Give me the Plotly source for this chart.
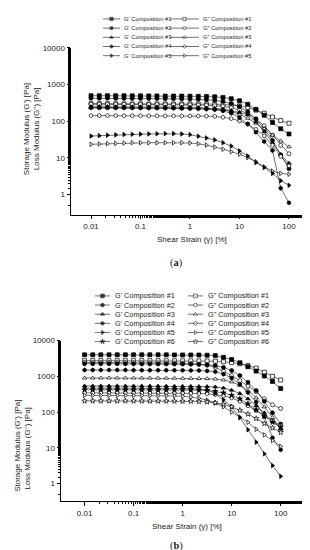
import plotly.graph_objects as go

# ---------------- data ----------------
strain = [0.01, 0.0147, 0.0215, 0.0316, 0.0464, 0.0681, 0.1, 0.147, 0.215, 0.316,
          0.464, 0.681, 1, 1.47, 2.15, 3.16, 4.64, 6.81, 10, 14.7, 21.5, 31.6, 46.4, 68.1, 100]

x_ticks = [0.01, 0.1, 1, 10, 100]
x_ticktext = ["0.01", "0.1", "1", "10", "100"]
y_ticks = [1, 10, 100, 1000, 10000]
y_ticktext = ["1", "10", "100", "1000", "10000"]

# panel (a)
a_g1 = [495,495,495,493,492,490,490,488,487,485,484,482,480,475,470,462,445,410,360,290,210,145,92,62,45]
a_gg1 = [300,300,298,298,297,296,296,295,295,295,294,294,294,293,292,290,285,275,260,238,200,165,130,104,88]
a_g2 = [420,420,420,418,418,416,415,414,412,410,408,405,400,395,385,370,345,305,250,180,115,62,30,12,5.1]
a_gg2 = [290,290,289,289,288,288,287,286,285,284,283,282,280,277,272,265,252,232,200,160,115,75,42,22,13]
a_g3 = [250,250,250,249,249,248,248,247,246,245,244,242,240,236,230,225,215,195,175,150,95,52,26,12.5,7.2]
a_gg3 = [235,235,235,234,234,234,233,233,232,232,231,230,229,227,224,218,205,185,155,120,88,62,42,29,20]
a_g4 = [230,230,230,229,229,228,228,227,226,225,224,222,220,217,212,205,190,165,125,85,50,28,16,1.5,0.6]
a_gg4 = [142,142,142,142,141,141,141,141,140,140,140,139,139,138,137,135,128,118,102,82,60,40,22,11,6.1]
a_g5 = [39.5,40.5,41.5,42.5,43.5,44,44.5,45,45.5,46,46,45,43,39,35,31,26,21,15.5,11.3,7.5,5.5,3.8,2.4,1.8]
a_gg5 = [23.5,24,24.5,25,25.5,26,26,26,26,26,26,26,25.5,24.4,22.4,19.8,17.3,14.8,12.6,10.2,7.9,5.7,4.4,3.8,3.6]

# panel (b)
b_g1 = [4000,4000,4000,4000,4000,4000,4000,4000,4000,4000,3990,3980,3970,3960,3950,3900,3800,3400,2950,2400,1850,1400,1020,720,455]
b_gg1 = [2750,2750,2750,2750,2750,2750,2750,2750,2740,2740,2740,2730,2730,2720,2710,2700,2650,2550,2420,2250,2000,1700,1300,1000,790]
b_g2 = [2250,2250,2250,2250,2250,2240,2240,2230,2230,2220,2220,2210,2200,2180,2150,2100,2000,1780,1450,1050,680,400,200,95,46]
b_gg2 = [2450,2450,2450,2450,2440,2440,2430,2420,2410,2400,2390,2370,2340,2290,2200,2050,1800,1400,1050,760,540,370,235,160,126]
b_g3 = [540,540,540,540,540,538,538,536,535,534,533,531,528,525,522,518,505,470,410,330,235,150,95,55,35]
b_gg3 = [900,900,900,900,900,898,896,895,893,890,888,885,880,875,870,860,840,790,700,560,400,250,140,70,32]
b_g4 = [1500,1500,1500,1500,1500,1495,1490,1490,1485,1480,1480,1475,1470,1460,1450,1420,1350,1150,900,600,350,190,75,19,8.8]
b_gg4 = [345,345,345,345,344,344,343,343,342,342,341,340,338,335,332,325,310,285,250,200,150,110,80,57,42]
b_g5 = [470,470,470,470,470,470,470,470,470,468,466,464,460,455,445,420,330,220,140,70,32,14.4,6.8,3.2,1.6]
b_gg5 = [292,292,292,292,291,291,290,290,289,288,286,283,278,265,245,215,180,140,100,72,52,33,23,16,11]
b_g6 = [420,420,420,420,420,419,419,418,418,417,416,415,414,412,408,400,380,345,295,235,170,115,75,52,38]
b_gg6 = [205,205,205,205,205,205,204,204,204,203,203,202,201,200,197,192,182,165,140,112,88,66,48,36,27]

comps_a = ["#1", "#2", "#3", "#4", "#5"]
comps_b = ["#1", "#2", "#3", "#4", "#5", "#6"]
series_a = [(a_g1, a_gg1), (a_g2, a_gg2), (a_g3, a_gg3), (a_g4, a_gg4), (a_g5, a_gg5)]
series_b = [(b_g1, b_gg1), (b_g2, b_gg2), (b_g3, b_gg3), (b_g4, b_gg4), (b_g5, b_gg5), (b_g6, b_gg6)]

# ---------------- styling ----------------
W, H = 310, 550
FONT = "Liberation Sans, Arial, sans-serif"
symbols = ["square", "circle", "triangle-up", "hexagon", "triangle-right", "star"]
LINE_C = "#333333"

def px(x):
    return x / W

def py(y):
    return 1 - y / H

fig = go.Figure()

def add_series(y, sym, filled, xa, ya, size=4):
    fig.add_trace(go.Scatter(
        x=strain, y=y, mode="lines+markers", xaxis=xa, yaxis=ya,
        line=dict(color=LINE_C, width=0.7),
        marker=dict(symbol=sym, size=size, color="black" if filled else "white",
                    line=dict(color="black", width=0.7)),
        showlegend=False, hoverinfo="skip"))

for k, (g, gg) in enumerate(series_a):
    add_series(gg, symbols[k], False, "x", "y")
    add_series(g, symbols[k], True, "x", "y")
for k, (g, gg) in enumerate(series_b):
    add_series(gg, symbols[k], False, "x2", "y2")
    add_series(g, symbols[k], True, "x2", "y2")

annotations = []

def legend_block(comps, row0, dy, cols, fsize, msize):
    for k, c in enumerate(comps):
        yrow = row0 + dy * k
        for ci, (x1, xm, x2, xt) in enumerate(cols):
            filled = ci == 0
            fig.add_trace(go.Scatter(
                x=[x1, xm, x2], y=[yrow, yrow, yrow], mode="lines+markers",
                xaxis="x3", yaxis="y3",
                line=dict(color=LINE_C, width=0.7),
                marker=dict(symbol=symbols[k], size=[0, msize, 0],
                            color="black" if filled else "white",
                            line=dict(color="black", width=[0, 0.7, 0])),
                showlegend=False, hoverinfo="skip"))
            label = ("G' Composition " if filled else 'G" Composition ') + c
            annotations.append(dict(
                x=px(xt), y=py(yrow), xref="paper", yref="paper", text=label,
                showarrow=False, xanchor="left", yanchor="middle",
                font=dict(family=FONT, size=fsize, color="#222")))

legend_block(comps_a, 7, 9.25,
             [(95, 103.5, 112, 114), (162, 176.5, 191, 193)], 5.8, 3.3)
legend_block(comps_b, 286, 9.2,
             [(87, 94.5, 102, 105), (180, 187.5, 195, 198)], 7.3, 3.8)

# axis titles & captions
def text(x, y, s, size=8, angle=0, family=FONT):
    annotations.append(dict(x=px(x), y=py(y), xref="paper", yref="paper", text=s,
                            showarrow=False, xanchor="center", yanchor="middle",
                            textangle=angle, borderpad=0,
                            font=dict(family=family, size=size, color="#222")))

text(184, 229, "Shear Strain (γ) [%]")
text(179, 518, "Shear Strain (γ) [%]")
text(18, 118, "Storage Modulus (G') [Pa]", angle=-90)
text(28, 118, "Loss Modulus (G'') [Pa]", angle=-90)
text(10, 437, "Storage Modulus (G') [Pa]", angle=-90)
text(20, 440, "Loss Modulus (G'') [Pa]", angle=-90)
text(168, 253, "(<b>a</b>)", size=10.5, family="Liberation Serif, Times New Roman, serif")
text(168, 538, "(<b>b</b>)", size=10.5, family="Liberation Serif, Times New Roman, serif")

axis_common = dict(
    type="log", showgrid=False, zeroline=False, showline=True, linecolor="black",
    linewidth=1, ticks="outside", ticklen=3.5, tickwidth=1, tickcolor="black",
    tickfont=dict(family=FONT, size=8, color="#222"),
    minor=dict(ticks="outside", ticklen=2, tickwidth=0.8, tickcolor="black", showgrid=False),
)

fig.update_layout(
    width=W, height=H, autosize=False,
    margin=dict(l=0, r=0, t=0, b=0),
    paper_bgcolor="white", plot_bgcolor="rgba(0,0,0,0)",
    showlegend=False,
    xaxis=dict(axis_common, domain=[63 / W, 304 / W], range=[-2.404, 2.465],
               tickvals=x_ticks, ticktext=x_ticktext, anchor="y"),
    yaxis=dict(axis_common, domain=[(H - 204) / H, (H - 36) / H], range=[-0.54, 4],
               tickvals=y_ticks, ticktext=y_ticktext, anchor="x"),
    xaxis2=dict(axis_common, domain=[53 / W, 297 / W], range=[-2.48, 2.496],
                tickvals=x_ticks, ticktext=x_ticktext, anchor="y2"),
    yaxis2=dict(axis_common, domain=[(H - 493) / H, (H - 331) / H], range=[-0.5, 4],
                tickvals=y_ticks, ticktext=y_ticktext, anchor="x2"),
    xaxis3=dict(domain=[0, 1], range=[0, W], visible=False, anchor="y3", fixedrange=True),
    yaxis3=dict(domain=[0, 1], range=[H, 0], visible=False, anchor="x3", fixedrange=True),
    annotations=annotations,
)

fig.write_html("out.html")
